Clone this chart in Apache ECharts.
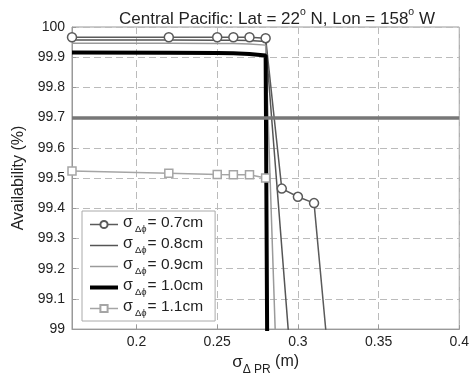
<!DOCTYPE html>
<html><head><meta charset="utf-8">
<script src="https://cdn.jsdelivr.net/npm/echarts@6/dist/echarts.min.js"></script>
<style>html,body{margin:0;padding:0;background:#fff}#c{width:472px;height:381px}</style>
</head><body><div id="c"></div>
<script>
// Data
const s07x = [0.16, 0.22, 0.25, 0.26, 0.27, 0.28, 0.29, 0.30, 0.31, 0.32];
const s07y = [99.966, 99.966, 99.966, 99.966, 99.966, 99.963, 99.465, 99.438, 99.417, 98.84];
const s08x = [0.16, 0.22, 0.25, 0.26, 0.27, 0.28, 0.30];
const s08y = [99.957, 99.957, 99.956, 99.956, 99.955, 99.952, 98.59];
const s09x = [0.16, 0.22, 0.25, 0.26, 0.27, 0.28, 0.29];
const s09y = [99.946, 99.946, 99.945, 99.945, 99.944, 99.94, 98.35];
const s10x = [0.16, 0.22, 0.25, 0.26, 0.27, 0.28, 0.29];
const s10y = [99.916, 99.915, 99.914, 99.913, 99.911, 99.906, 90.0];
const s11x = [0.16, 0.22, 0.25, 0.26, 0.27, 0.28, 0.29];
const s11y = [99.523, 99.516, 99.512, 99.511, 99.511, 99.50, 94.0];
const threshold = 99.7;
const seriesNames = ['0.7cm', '0.8cm', '0.9cm', '1.0cm', '1.1cm'];
const yTicks = [99, 99.1, 99.2, 99.3, 99.4, 99.5, 99.6, 99.7, 99.8, 99.9, 100];

const pairs = (xs, ys) => xs.map((x, i) => [x, ys[i]]);
const FONT = '"Liberation Sans", Arial, sans-serif';
const chart = echarts.init(document.getElementById('c'));
const base = { type: 'line', clip: true, animation: false, silent: true };

chart.setOption({
  animation: false,
  textStyle: { fontFamily: FONT },
  title: {
    text: '{a|Central Pacific: Lat = 22}{sup|o}{a| N, Lon = 158}{sup|o}{a| W}',
    left: 272, top: 2, textAlign: 'center',
    textStyle: {
      fontWeight: 'normal',
      rich: {
        a: { fontSize: 17, color: '#222', fontFamily: FONT, fontWeight: 'normal', lineHeight: 21, verticalAlign: 'bottom' },
        sup: { fontSize: 10.5, color: '#222', fontFamily: FONT, fontWeight: 'normal', lineHeight: 21, verticalAlign: 'top' }
      }
    }
  },
  grid: { left: 72, right: 10, top: 27, bottom: 47, show: true, borderColor: '#999', borderWidth: 1 },
  xAxis: {
    type: 'value', min: 0.16, max: 0.4,
    name: '{s|σ}{sub|Δ PR}{t| (m)}', nameLocation: 'middle', nameGap: 24,
    nameTextStyle: {
      rich: {
        s: { fontSize: 17, color: '#222', fontFamily: FONT, lineHeight: 22, verticalAlign: 'top' },
        sub: { fontSize: 12, color: '#222', fontFamily: FONT, lineHeight: 22, verticalAlign: 'bottom' },
        t: { fontSize: 16, color: '#222', fontFamily: FONT, lineHeight: 22, verticalAlign: 'top' }
      }
    },
    axisLine: { lineStyle: { color: '#999' } },
    axisTick: { inside: true, length: 4, lineStyle: { color: '#999' } },
    axisLabel: { showMinLabel: false, color: '#222', fontSize: 14, margin: 6, fontFamily: FONT },
    splitLine: { show: true, lineStyle: { color: '#bbb', type: [7, 4], width: 1 } }
  },
  yAxis: {
    type: 'value', min: yTicks[0], max: yTicks[yTicks.length - 1], interval: 0.1,
    name: 'Availability (%)', nameLocation: 'middle', nameGap: 38,
    nameTextStyle: { fontSize: 16, color: '#222', fontFamily: FONT },
    axisLine: { show: true, lineStyle: { color: '#999' } },
    axisTick: { show: true, inside: true, length: 4, lineStyle: { color: '#999' } },
    axisLabel: { color: '#222', fontSize: 14, margin: 7, fontFamily: FONT,
      formatter: v => String(parseFloat(v.toFixed(1))) },
    splitLine: { show: true, lineStyle: { color: '#bbb', type: [7, 4], width: 1 } }
  },
  legend: {
    orient: 'vertical', left: 82, top: 211,
    backgroundColor: '#fff', borderColor: '#aaa', borderWidth: 1,
    padding: [4, 12, 3, 6], itemGap: 2, itemWidth: 28, itemHeight: 9,
    data: [
      { name: seriesNames[0], lineStyle: { width: 1.5, color: '#5a5a5a' } },
      { name: seriesNames[1], itemStyle: { opacity: 0 }, lineStyle: { width: 1.5, color: '#555' } },
      { name: seriesNames[2], itemStyle: { opacity: 0 }, lineStyle: { width: 1.5, color: '#9a9a9a' } },
      { name: seriesNames[3], itemStyle: { opacity: 0 }, lineStyle: { width: 4, color: '#000' } },
      { name: seriesNames[4], lineStyle: { width: 1.5, color: '#a5a5a5' } }
    ],
    formatter: n => '{s|σ}{sub|Δϕ}{t|= ' + n + '}',
    textStyle: {
      rich: {
        s: { fontSize: 16, color: '#222', fontFamily: FONT, lineHeight: 19, verticalAlign: 'top', padding: [0, 2, 0, 0] },
        sub: { fontSize: 9.5, color: '#222', fontFamily: FONT, lineHeight: 19, verticalAlign: 'bottom' },
        t: { fontSize: 15.5, color: '#222', fontFamily: FONT, lineHeight: 19, verticalAlign: 'top', padding: [0, 0, 0, 1] }
      }
    }
  },
  series: [
    Object.assign({}, base, {
      name: seriesNames[0], data: pairs(s07x, s07y),
      symbol: 'circle', symbolSize: 9, showAllSymbol: true,
      itemStyle: { color: '#fff', borderColor: '#5a5a5a', borderWidth: 1.5 },
      lineStyle: { color: '#5a5a5a', width: 1.5 },
      markLine: { silent: true, symbol: 'none', animation: false, label: { show: false },
        lineStyle: { color: '#777', width: 3.5, type: 'solid' }, data: [{ yAxis: threshold }] }
    }),
    Object.assign({}, base, {
      name: seriesNames[1], data: pairs(s08x, s08y), symbol: 'none',
      itemStyle: { color: '#555' }, lineStyle: { color: '#555', width: 1.5 }
    }),
    Object.assign({}, base, {
      name: seriesNames[2], data: pairs(s09x, s09y), symbol: 'none',
      itemStyle: { color: '#9a9a9a' }, lineStyle: { color: '#9a9a9a', width: 1.5 }
    }),
    Object.assign({}, base, {
      name: seriesNames[4], data: pairs(s11x, s11y),
      symbol: 'rect', symbolSize: 8, showAllSymbol: true,
      itemStyle: { color: '#fff', borderColor: '#a5a5a5', borderWidth: 1.5 },
      lineStyle: { color: '#a5a5a5', width: 1.5 }
    }),
    Object.assign({}, base, {
      name: seriesNames[3], data: pairs(s10x, s10y), symbol: 'none',
      itemStyle: { color: '#000' }, lineStyle: { color: '#000', width: 4 }
    })
  ]
});
</script></body></html>
